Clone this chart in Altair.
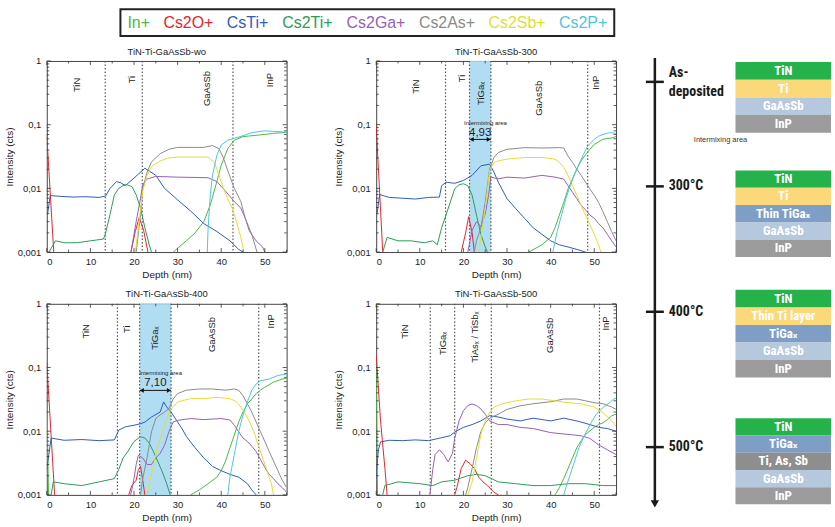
import altair as alt
import pandas as pd

# ---------------- data ----------------
SPECIES = ["In+", "Cs2O+", "CsTi+", "Cs2Ti+", "Cs2Ga+", "Cs2As+", "Cs2Sb+", "Cs2P+"]
COLORS = ["#4cb847", "#e3262d", "#2f5db4", "#2a9d57", "#9560b5", "#8a8a8a", "#e3dd33", "#4cc7dc"]

# Panel: as deposited (wo)
wo_in = [(29,0.001),(32,0.0015),(34,0.002),(36,0.003),(37.5,0.0055),(39,0.0128),(40,0.023),(41.5,0.042),(43,0.057),(45,0.065),(48,0.068),(52,0.073),(55,0.076)]
wo_cs2o_a = [(0,0.069),(1.6,0.001)]
wo_cs2o_b = [(19.3,0.001),(20.3,0.0021),(21.2,0.0035),(22.2,0.0022),(23.2,0.001)]
wo_csti = [(0.2,0.004),(0.8,0.0077),(3,0.0075),(6,0.0073),(9,0.0074),(12,0.0072),(13.5,0.0076),(14.5,0.010),(16,0.0128),(17,0.0122),(18,0.011),(20,0.0145),(22.5,0.0207),(25,0.016),(27,0.01),(30,0.0066),(33,0.0044),(36,0.0028),(39,0.0021),(42,0.0015),(44,0.0011),(45,0.001)]
wo_cs2ti = [(0.5,0.001),(2,0.0015),(4,0.0014),(7,0.0014),(10,0.0015),(13,0.0016),(13.5,0.002),(14.5,0.0039),(15.5,0.0079),(16.5,0.01),(18,0.0116),(19.5,0.0107),(20.5,0.0079),(21.5,0.0049),(22.5,0.0024),(23.5,0.0013),(24,0.001)]
wo_cs2ga = [(19.3,0.001),(20.5,0.003),(21.5,0.007),(22,0.0114),(23,0.014),(25,0.0154),(30,0.015),(37,0.0147),(39,0.0128),(41,0.009),(43,0.0062),(44.5,0.0049),(45.5,0.0034),(46.5,0.0021),(48,0.0015),(49.5,0.0012),(50,0.001)]
wo_cs2as = [(20.5,0.001),(21.5,0.0039),(22,0.01),(23,0.018),(24,0.026),(26,0.035),(28,0.041),(30,0.044),(34,0.044),(36,0.044),(38,0.047),(39.5,0.042),(40.5,0.03),(41.5,0.019),(43,0.01),(44.5,0.0062),(45.5,0.0034),(47,0.0019),(48.2,0.001)]
wo_cs2sb = [(20.3,0.001),(21,0.0024),(22,0.009),(23,0.016),(24,0.022),(26,0.027),(28,0.03),(30,0.031),(37,0.031),(38.5,0.025),(39.5,0.016),(40.5,0.01),(41.5,0.0068),(42.5,0.0049),(43.5,0.003),(44.5,0.0017),(45.2,0.001)]
wo_cs2p = [(36.8,0.001),(37,0.0024),(37.5,0.0079),(38,0.016),(39,0.033),(40,0.048),(41.5,0.057),(43,0.061),(45,0.067),(47,0.075),(50,0.08),(55,0.076)]

# Panel: 300 C
p300_in = [(35,0.001),(38,0.0013),(40,0.0017),(41,0.0024),(42,0.0038),(43,0.006),(44,0.0098),(45,0.014),(46,0.02),(47,0.027),(48,0.034),(49,0.041),(50,0.049),(52,0.059),(54,0.062),(55,0.065)]
p300_cs2o_a = [(0,0.095),(1.5,0.001)]
p300_cs2o_b = [(19.5,0.001),(20.5,0.002),(21.2,0.0036),(22,0.002),(22.5,0.001)]
p300_csti = [(0.2,0.004),(0.8,0.008),(3,0.0072),(6,0.007),(9,0.0068),(12,0.0072),(14.5,0.0073),(15,0.011),(16,0.0125),(18,0.012),(20,0.0133),(22,0.016),(24,0.0226),(26,0.024),(27,0.018),(28,0.0125),(30,0.0069),(32,0.0048),(34,0.0034),(36,0.0024),(38,0.0019),(40,0.0015),(42,0.0013),(44,0.0012),(46,0.0011),(48,0.001)]
p300_cs2ti = [(1.5,0.001),(2.5,0.0017),(5,0.0015),(8,0.0015),(11,0.0014),(13,0.0015),(14,0.0013),(15,0.0024),(16,0.0038),(17,0.0061),(18,0.0099),(19,0.0114),(20,0.0118),(21,0.011),(22,0.0078),(23,0.0038),(24,0.0019),(25,0.0012),(25.5,0.001)]
p300_cs2ga = [(21,0.001),(22,0.0022),(23,0.003),(24,0.0025),(25,0.004),(25.8,0.008),(26.3,0.015),(28,0.0141),(30,0.015),(34,0.0145),(38,0.016),(41,0.015),(43,0.014),(44,0.011),(45,0.0087),(46,0.0069),(47,0.0054),(48,0.0046),(49,0.0038),(50,0.0034),(51,0.0028),(52,0.0024),(53,0.0019),(54,0.0015),(55,0.0012)]
p300_cs2as = [(22.5,0.001),(23,0.0015),(24,0.0024),(25,0.006),(26,0.02),(27,0.0305),(28,0.0365),(30,0.041),(34,0.0436),(38,0.043),(42,0.0436),(43,0.043),(44,0.032),(45,0.0256),(46,0.02),(47,0.016),(48,0.0125),(49,0.0098),(50,0.0078),(51,0.006),(52,0.0043),(53,0.003),(54,0.0021),(55,0.0015)]
p300_cs2sb = [(23.5,0.001),(25,0.0048),(26,0.019),(27,0.0255),(28,0.027),(30,0.0288),(34,0.0305),(38,0.0305),(41,0.0288),(42,0.0255),(43,0.0214),(44,0.016),(45,0.011),(46,0.0078),(47,0.0054),(48,0.0038),(49,0.0027),(50,0.0019),(51,0.0013),(51.5,0.001)]
p300_cs2p = [(40.5,0.001),(41.5,0.0021),(42.5,0.0038),(43.5,0.0069),(44.5,0.011),(45.5,0.0168),(46.5,0.024),(47.5,0.034),(48.5,0.046),(50,0.059),(51,0.066),(52,0.07),(53.5,0.075),(55,0.073)]

# Panel: 400 C
p400_in_a = [(0,0.04),(0.4,0.001)]
p400_in = [(33,0.001),(35,0.0012),(37,0.0015),(39,0.0019),(40,0.0024),(41,0.0034),(42,0.0055),(43,0.0087),(44,0.014),(45,0.02),(46,0.027),(47,0.032),(48,0.039),(49,0.044),(50,0.049),(52,0.059),(54,0.066),(55,0.068)]
p400_cs2o_a = [(0,0.12),(1.8,0.001)]
p400_cs2o_b = [(18.8,0.001),(19.5,0.0014),(20.5,0.0017),(21,0.0025),(21.5,0.0028),(22,0.0017),(22.5,0.001)]
p400_csti = [(0,0.0025),(1,0.0078),(4,0.0072),(8,0.0074),(12,0.0071),(15.5,0.0073),(16.5,0.0104),(18,0.0117),(20,0.0124),(21.5,0.0131),(22.5,0.0139),(24,0.0167),(26,0.02),(26.8,0.0288),(27.5,0.024),(28.5,0.02),(30,0.0139),(31,0.011),(32,0.0083),(34,0.0055),(36,0.0038),(38,0.0028),(40,0.0024),(42,0.0021),(44,0.0019),(46,0.0015),(47,0.0012),(48,0.001)]
p400_cs2ti = [(1,0.001),(1.5,0.0016),(4,0.0015),(8,0.0014),(12,0.0016),(15.5,0.0018),(16.5,0.0025),(17.5,0.0038),(18.5,0.0047),(20,0.0069),(21.5,0.0082),(22.5,0.0078),(23.5,0.0065),(24.5,0.0047),(25.5,0.0033),(26.5,0.0023),(27.5,0.0015),(28.3,0.001)]
p400_cs2ga = [(19.2,0.001),(19.5,0.0012),(20,0.0018),(20.5,0.003),(21,0.0042),(22,0.0038),(23,0.003),(24,0.003),(25,0.0038),(26,0.0045),(27,0.006),(28,0.0098),(29,0.014),(30,0.0148),(33,0.0158),(36,0.0152),(40,0.0158),(42,0.015),(43,0.0124),(44,0.0098),(45,0.0078),(46,0.0069),(47,0.0058),(48,0.0048),(49,0.0036),(50,0.0027),(51,0.0021),(52,0.0018),(53,0.0015),(54,0.0013),(55,0.0011)]
p400_cs2as = [(21.5,0.001),(22,0.0018),(23,0.0038),(24,0.0098),(25,0.0158),(26,0.018),(27,0.02),(28,0.0225),(29,0.032),(30,0.039),(32,0.044),(35,0.046),(38,0.046),(41,0.044),(43,0.046),(44,0.044),(45,0.036),(46,0.027),(47,0.02),(48,0.014),(49,0.0098),(50,0.0069),(51,0.0048),(52,0.0034),(53,0.0024),(54,0.0017),(55,0.0013)]
p400_cs2sb = [(23,0.001),(23.5,0.0015),(24.5,0.003),(25.5,0.006),(26.5,0.0098),(27.5,0.0158),(28.5,0.0225),(30,0.0288),(33,0.0325),(36,0.0325),(39,0.034),(42,0.0325),(43.5,0.029),(44.5,0.024),(45.5,0.019),(46.5,0.014),(47.5,0.0098),(48.5,0.006),(49.5,0.0038),(50.5,0.0024),(51.5,0.0015),(52,0.001)]
p400_cs2p = [(41.5,0.001),(42,0.0019),(43,0.0043),(44,0.0098),(45,0.018),(46,0.0288),(47,0.044),(48,0.055),(49,0.062),(51,0.066),(53,0.075),(55,0.079)]

# Panel: 500 C
p500_in_a = [(0,0.12),(0.3,0.001)]
p500_in = [(41,0.001),(42,0.0013),(43,0.0018),(44,0.0026),(45,0.0038),(46,0.0055),(47,0.0071),(48,0.0089),(49,0.0101),(50,0.0115),(51,0.0127),(52,0.0135),(53,0.0152),(54,0.0175),(55,0.0185)]
p500_cs2o_a = [(0,0.16),(1,0.0145),(2,0.0026),(2.5,0.001)]
p500_cs2o_b = [(18,0.001),(18.5,0.0013),(19.5,0.0026),(20.5,0.0035),(21.5,0.0031),(22.5,0.0026),(23.5,0.0019),(24.5,0.0016),(25.5,0.0014),(27,0.0011),(28,0.001)]
p500_csti = [(0,0.002),(0.5,0.0051),(1,0.0068),(3,0.0072),(6,0.0071),(9,0.0073),(12,0.0071),(15,0.0079),(17,0.0085),(18,0.0097),(20,0.0115),(22,0.0127),(24,0.0145),(26,0.0175),(28,0.0167),(30,0.0155),(33,0.0145),(36,0.016),(40,0.0145),(43,0.016),(46,0.0145),(49,0.0127),(51,0.0115),(53,0.011),(55,0.01)]
p500_cs2ti = [(1.5,0.001),(2,0.0014),(5,0.0016),(10,0.0015),(13,0.0014),(15,0.0016),(18,0.0017),(21,0.002),(23,0.0021),(25,0.002),(28,0.0016),(32,0.0015),(36,0.0014),(40,0.0014),(44,0.0015),(48,0.0015),(52,0.0014),(55,0.0014)]
p500_cs2ga = [(12.3,0.001),(12.5,0.0013),(13,0.0026),(13.5,0.0043),(14.5,0.0051),(15.5,0.0043),(16.5,0.0033),(17.5,0.0045),(18,0.0077),(19,0.0145),(20,0.021),(21,0.0253),(22,0.0268),(23,0.0253),(24,0.0224),(25,0.0185),(26,0.0145),(28,0.0127),(30,0.0127),(33,0.0115),(36,0.011),(40,0.0095),(44,0.0089),(47,0.0085),(49,0.0077),(51,0.0061),(53,0.0051),(55,0.0043)]
p500_cs2as = [(20.5,0.001),(21,0.0013),(22,0.0026),(23,0.0055),(24,0.0099),(25,0.0135),(26,0.016),(28,0.0185),(30,0.022),(33,0.025),(36,0.027),(40,0.029),(43,0.032),(46,0.032),(48,0.03),(50,0.028),(52,0.027),(54,0.024),(55,0.022)]
p500_cs2sb = [(21,0.001),(22,0.0016),(23,0.0038),(24,0.0089),(25,0.0145),(26,0.0195),(27,0.0238),(29,0.027),(32,0.03),(35,0.032),(38,0.032),(41,0.03),(44,0.028),(47,0.027),(50,0.024),(52,0.0195),(54,0.0145),(55,0.012)]
p500_cs2p = [(43,0.001),(43.5,0.0013),(44.5,0.0021),(45.5,0.0034),(46.5,0.0055),(47.5,0.0079),(48.5,0.0107),(49.5,0.0145),(50.5,0.0185),(51.5,0.022),(52.5,0.025),(53.5,0.028),(54.5,0.032),(55,0.033)]

# layer boundaries / labels per panel
wo_div = [13.4, 21.9, 42.7]
wo_lab = ["TiN", "Ti", "GaAsSb", "InP"]
wo_lab_x = [7.0, 19.6, 36.8, 51.2]
wo_lab_y = [0.42, 0.51, 0.37, 0.5]

p300_div = [15.9, 21.4, 26.3, 48.5]
p300_lab = ["TiN", "Ti", "TiGaₓ", "GaAsSb", "InP"]
p300_lab_x = [9.1, 19.6, 24.1, 37.3, 50.5]
p300_lab_y = [0.395, 0.53, 0.31, 0.26, 0.455]
p300_band = (21.4, 26.3)
p300_width = "4,93"

p400_div = [16.2, 21.3, 28.5, 48.6]
p400_lab = ["TiN", "Ti", "TiGaₓ", "GaAsSb", "InP"]
p400_lab_x = [8.9, 18.5, 24.9, 37.8, 51.5]
p400_lab_y = [0.37, 0.4, 0.29, 0.33, 0.53]
p400_band = (21.3, 28.5)
p400_width = "7,10"

p500_div = [12.4, 18.0, 26.4, 51.2]
p500_lab = ["TiN", "TiGaₓ", "TiAsₓ / TiSbₓ", "GaAsSb", "InP"]
p500_lab_x = [6.6, 15.3, 22.7, 39.9, 52.7]
p500_lab_y = [0.365, 0.24, 0.30, 0.32, 0.49]

# axis ticks
X_MAJOR = [0, 10, 20, 30, 40, 50]
X_MINOR = [5, 15, 25, 35, 45, 55]
Y_MAJOR = [0.001, 0.01, 0.1, 1]
Y_MINOR = [k * 10.0 ** e for e in (-3, -2, -1) for k in range(2, 10)]

# schematic (right side)
stage_names = ["As-\ndeposited", "300°C", "400°C", "500°C"]
stage_tick_y = [81, 186, 312, 448]
stage_label_y = [72, 186, 312, 448]
stack_tops = [61, 170, 290, 419]
stack_layer_h = [17.8, 17.4, 17.6, 17.3]
stack_layers = [
    ["TiN", "Ti", "GaAsSb", "InP"],
    ["TiN", "Ti", "Thin TiGaₓ", "GaAsSb", "InP"],
    ["TiN", "Thin Ti layer", "TiGaₓ", "GaAsSb", "InP"],
    ["TiN", "TiGaₓ", "Ti, As, Sb", "GaAsSb", "InP"],
]
stack_colors = [
    ["#25b24b", "#fbd97a", "#b5c8de", "#9c9c9c"],
    ["#25b24b", "#fbd97a", "#7e9ec5", "#b5c8de", "#9c9c9c"],
    ["#25b24b", "#fbd97a", "#7e9ec5", "#b5c8de", "#9c9c9c"],
    ["#25b24b", "#7e9ec5", "#8e8e8e", "#b5c8de", "#9c9c9c"],
]

# ---------------- helpers ----------------
FONT = "Liberation Sans"
W, H = 241, 192
color_scale = alt.Scale(domain=SPECIES, range=COLORS)
xs = alt.Scale(domain=[0, 55], nice=False, zero=False)
ys = alt.Scale(type="log", domain=[0.001, 1], nice=False)

XAXIS = alt.Axis(values=X_MAJOR, title="Depth (nm)", grid=False, domain=False, ticks=False,
                 labelFontSize=9.5, labelFont=FONT, labelColor="#222",
                 titleFontSize=10, titleFont=FONT, titleFontWeight="normal", titleColor="#222",
                 labelPadding=5, titlePadding=3)
YAXIS = alt.Axis(values=Y_MAJOR, labelExpr="replace(toString(datum.value), '.', ',')",
                 title="Intensity (cts)", grid=False, domain=False, ticks=False,
                 labelFontSize=9.5, labelFont=FONT, labelColor="#222",
                 titleFontSize=10, titleFont=FONT, titleFontWeight="normal", titleColor="#222",
                 labelPadding=6, titlePadding=3)


def X(field):
    return alt.X(field, scale=xs, axis=XAXIS)


def Y(field):
    return alt.Y(field, scale=ys, axis=YAXIS)


def series_df(series):
    rows = []
    for i, (sp, pts) in enumerate(series):
        for x, y in pts:
            rows.append(dict(depth=x, val=y, species=sp, key=f"{sp}-{i}"))
    return pd.DataFrame(rows)


def tick_layers():
    out = []
    for vals, ln in ((Y_MAJOR, 4), (Y_MINOR, 2.5)):
        d = pd.DataFrame({"v": vals})
        out.append(alt.Chart(d).mark_rule(color="#333", strokeWidth=0.8).encode(
            y=Y("v:Q"), x=alt.value(0), x2=alt.value(ln)))
        out.append(alt.Chart(d).mark_rule(color="#333", strokeWidth=0.8).encode(
            y=Y("v:Q"), x=alt.value(W), x2=alt.value(W - ln)))
    for vals, ln in ((X_MAJOR, 4), (X_MINOR, 2.5)):
        d = pd.DataFrame({"v": vals})
        out.append(alt.Chart(d).mark_rule(color="#333", strokeWidth=0.8).encode(
            x=X("v:Q"), y=alt.value(H), y2=alt.value(H - ln)))
        out.append(alt.Chart(d).mark_rule(color="#333", strokeWidth=0.8).encode(
            x=X("v:Q"), y=alt.value(0), y2=alt.value(ln)))
    return out


def panel(title, series, div, lab, lab_x, lab_y, band=None, width_txt=None, arrow_y=None, num_y=None, inter_y=None):
    layers = []
    if band is not None:
        bdf = pd.DataFrame({"x0": [band[0]], "x1": [band[1]]})
        layers.append(alt.Chart(bdf).mark_rect(color="#a9d9f2", opacity=0.9).encode(
            x=X("x0:Q"), x2="x1:Q", y=alt.value(0), y2=alt.value(H)))
    ddf = pd.DataFrame({"d": div})
    layers.append(alt.Chart(ddf).mark_rule(color="#555", strokeDash=[1.5, 2], strokeWidth=1.2).encode(
        x=X("d:Q")))
    ldf = series_df(series)
    layers.append(alt.Chart(ldf).mark_line(strokeWidth=1, clip=True).encode(
        x=X("depth:Q"), y=Y("val:Q"),
        color=alt.Color("species:N", scale=color_scale, legend=None),
        detail="key:N"))
    tdf = pd.DataFrame({"t": lab, "x": lab_x, "y": lab_y})
    layers.append(alt.Chart(tdf).mark_text(angle=270, fontSize=9.5, font=FONT, color="#222",
                                           align="center", baseline="middle").encode(
        x=X("x:Q"), y=Y("y:Q"), text="t:N"))
    if band is not None:
        adf = pd.DataFrame({"x0": [band[0]], "x1": [band[1]], "y": [arrow_y]})
        layers.append(alt.Chart(adf).mark_rule(color="#111", strokeWidth=1).encode(
            x=X("x0:Q"), x2="x1:Q", y=Y("y:Q")))
        hdf = pd.DataFrame({"x": [band[0] + 0.5, band[1] - 0.5], "y": [arrow_y, arrow_y],
                            "s": ["triangle-left", "triangle-right"]})
        layers.append(alt.Chart(hdf).mark_point(filled=True, color="#111", size=22, opacity=1).encode(
            x=X("x:Q"), y=Y("y:Q"), shape=alt.Shape("s:N", scale=None)))
        mid = (band[0] + band[1]) / 2
        ndf = pd.DataFrame({"x": [mid, mid + 1.2], "y": [num_y, inter_y],
                            "t": [width_txt, "Intermixing area"], "fs": [11.5, 6]})
        layers.append(alt.Chart(ndf).mark_text(font=FONT, color="#222", baseline="middle").encode(
            x=X("x:Q"), y=Y("y:Q"), text="t:N", size=alt.Size("fs:Q", scale=None)))
    layers.extend(tick_layers())
    return alt.layer(*layers).properties(
        width=W, height=H,
        title=alt.TitleParams(title, fontSize=9.5, font=FONT, fontWeight="normal", color="#222", offset=0),
        view=alt.ViewBackground(stroke="#444", strokeWidth=1))


p1 = panel("TiN-Ti-GaAsSb-wo",
           [("In+", wo_in), ("Cs2O+", wo_cs2o_a), ("Cs2O+", wo_cs2o_b), ("CsTi+", wo_csti),
            ("Cs2Ti+", wo_cs2ti), ("Cs2Ga+", wo_cs2ga), ("Cs2As+", wo_cs2as), ("Cs2Sb+", wo_cs2sb),
            ("Cs2P+", wo_cs2p)],
           wo_div, wo_lab, wo_lab_x, wo_lab_y)
p2 = panel("TiN-Ti-GaAsSb-300",
           [("In+", p300_in), ("Cs2O+", p300_cs2o_a), ("Cs2O+", p300_cs2o_b), ("CsTi+", p300_csti),
            ("Cs2Ti+", p300_cs2ti), ("Cs2Ga+", p300_cs2ga), ("Cs2As+", p300_cs2as), ("Cs2Sb+", p300_cs2sb),
            ("Cs2P+", p300_cs2p)],
           p300_div, p300_lab, p300_lab_x, p300_lab_y, band=p300_band, width_txt=p300_width,
           arrow_y=0.0587, num_y=0.074, inter_y=0.106)
p3 = panel("TiN-Ti-GaAsSb-400",
           [("In+", p400_in_a), ("In+", p400_in), ("Cs2O+", p400_cs2o_a), ("Cs2O+", p400_cs2o_b),
            ("CsTi+", p400_csti), ("Cs2Ti+", p400_cs2ti), ("Cs2Ga+", p400_cs2ga), ("Cs2As+", p400_cs2as),
            ("Cs2Sb+", p400_cs2sb), ("Cs2P+", p400_cs2p)],
           p400_div, p400_lab, p400_lab_x, p400_lab_y, band=p400_band, width_txt=p400_width,
           arrow_y=0.0437, num_y=0.058, inter_y=0.081)
p4 = panel("TiN-Ti-GaAsSb-500",
           [("In+", p500_in_a), ("In+", p500_in), ("Cs2O+", p500_cs2o_a), ("Cs2O+", p500_cs2o_b),
            ("CsTi+", p500_csti), ("Cs2Ti+", p500_cs2ti), ("Cs2Ga+", p500_cs2ga), ("Cs2As+", p500_cs2as),
            ("Cs2Sb+", p500_cs2sb), ("Cs2P+", p500_cs2p)],
           p500_div, p500_lab, p500_lab_x, p500_lab_y)

# ---------------- legend (colored words in a box) ----------------
ARIAL_W = {"I": 278, "n": 556, "+": 584, "C": 722, "s": 500, "2": 556, "O": 778, "T": 611, "i": 222,
           "G": 778, "a": 556, "A": 667, "S": 667, "b": 556, "P": 667}
LEG_FS = 16
LEG_GAP = 13.5
LEG_PAD = 7
LEG_LEFT = 120
starts = []
cur = LEG_LEFT + LEG_PAD
for s in SPECIES:
    starts.append(cur)
    cur += sum(ARIAL_W[c] for c in s) / 1000 * LEG_FS + LEG_GAP
leg_right = cur - LEG_GAP + LEG_PAD
LX0 = 46
LW, LH = 570, 35
lxs = alt.Scale(domain=[LX0, LX0 + LW], nice=False, zero=False)
lys = alt.Scale(domain=[0, LH], nice=False, zero=False, reverse=True)
legend_box = alt.Chart(pd.DataFrame({"x0": [LEG_LEFT], "x1": [leg_right], "y0": [8], "y1": [35]})).mark_rect(
    fill="white", stroke="#222", strokeWidth=2).encode(
    x=alt.X("x0:Q", scale=lxs, axis=None), x2="x1:Q",
    y=alt.Y("y0:Q", scale=lys, axis=None), y2="y1:Q")
legend_txt = alt.Chart(pd.DataFrame({"s": SPECIES, "x": starts, "y": [21.5] * len(SPECIES)})).mark_text(
    fontSize=LEG_FS, font=FONT, align="left", baseline="middle").encode(
    x=alt.X("x:Q", scale=lxs, axis=None), y=alt.Y("y:Q", scale=lys, axis=None), text="s:N",
    color=alt.Color("s:N", scale=color_scale, legend=None))
legend = alt.layer(legend_box, legend_txt).properties(
    width=LW, height=LH, view=alt.ViewBackground(stroke=None))

# ---------------- schematic ----------------
RX0, RW, RH = 630, 205, 527
rxs = alt.Scale(domain=[RX0, RX0 + RW], nice=False, zero=False)
rys = alt.Scale(domain=[0, RH], nice=False, zero=False, reverse=True)
SFONT = "Liberation Sans Narrow, Roboto Condensed, DejaVu Sans Condensed, Liberation Sans"

timeline = alt.Chart(pd.DataFrame({"x": [654], "y0": [57], "y1": [503]})).mark_rule(
    color="#1a1a1a", strokeWidth=2.5).encode(
    x=alt.X("x:Q", scale=rxs, axis=None), y=alt.Y("y0:Q", scale=rys, axis=None), y2="y1:Q")
arrowhead = alt.Chart(pd.DataFrame({"x": [654], "y": [505]})).mark_point(
    shape="triangle-down", filled=True, color="#1a1a1a", size=70, opacity=1).encode(
    x=alt.X("x:Q", scale=rxs, axis=None), y=alt.Y("y:Q", scale=rys, axis=None))
ticks = alt.Chart(pd.DataFrame({"x0": [645] * 4, "x1": [663] * 4, "y": stage_tick_y})).mark_rule(
    color="#1a1a1a", strokeWidth=2.5).encode(
    x=alt.X("x0:Q", scale=rxs, axis=None), x2="x1:Q", y=alt.Y("y:Q", scale=rys, axis=None))
stage_txt = alt.Chart(pd.DataFrame({"t": stage_names, "x": [668] * 4, "y": stage_label_y})).mark_text(
    font=SFONT, fontSize=14, fontWeight="bold", color="#1a1a1a", align="left", baseline="middle",
    lineBreak="\n", lineHeight=19).encode(
    x=alt.X("x:Q", scale=rxs, axis=None), y=alt.Y("y:Q", scale=rys, axis=None), text="t:N")

srows = []
for si, (top, h, names, cols) in enumerate(zip(stack_tops, stack_layer_h, stack_layers, stack_colors)):
    for li, (nm, c) in enumerate(zip(names, cols)):
        srows.append(dict(x0=735, x1=831, y0=top + li * h, y1=top + (li + 1) * h,
                          ym=top + (li + 0.5) * h, name=nm, fill=c, k=f"{si}-{li}"))
sdf = pd.DataFrame(srows)
stack_rect = alt.Chart(sdf).mark_rect().encode(
    x=alt.X("x0:Q", scale=rxs, axis=None), x2="x1:Q",
    y=alt.Y("y0:Q", scale=rys, axis=None), y2="y1:Q",
    fill=alt.Fill("fill:N", scale=None))
stack_txt = alt.Chart(sdf).mark_text(font=SFONT, fontSize=13, fontWeight="bold", color="white",
                                     baseline="middle", align="center").encode(
    x=alt.X("xc:Q", scale=rxs, axis=None), y=alt.Y("ym:Q", scale=rys, axis=None), text="name:N"
).transform_calculate(xc="(datum.x0 + datum.x1) / 2")
inter_txt = alt.Chart(pd.DataFrame({"t": ["Intermixing area"], "x": [720], "y": [139]})).mark_text(
    font=FONT, fontSize=7.5, color="#333333", baseline="middle", align="center").encode(
    x=alt.X("x:Q", scale=rxs, axis=None), y=alt.Y("y:Q", scale=rys, axis=None), text="t:N")

right = alt.layer(timeline, arrowhead, ticks, stage_txt, stack_rect, stack_txt, inter_txt).properties(
    width=RW, height=RH, view=alt.ViewBackground(stroke=None))

left = alt.vconcat(legend, alt.hconcat(p1, p2, spacing=45), alt.hconcat(p3, p4, spacing=45), spacing=9)
chart = alt.hconcat(left, right, spacing=14).properties(
    padding={"left": 3, "top": 0, "right": 0, "bottom": 0},
    background="white"
).configure_view(stroke=None)

chart.save("out.html", embed_options={"renderer": "svg", "actions": False})
